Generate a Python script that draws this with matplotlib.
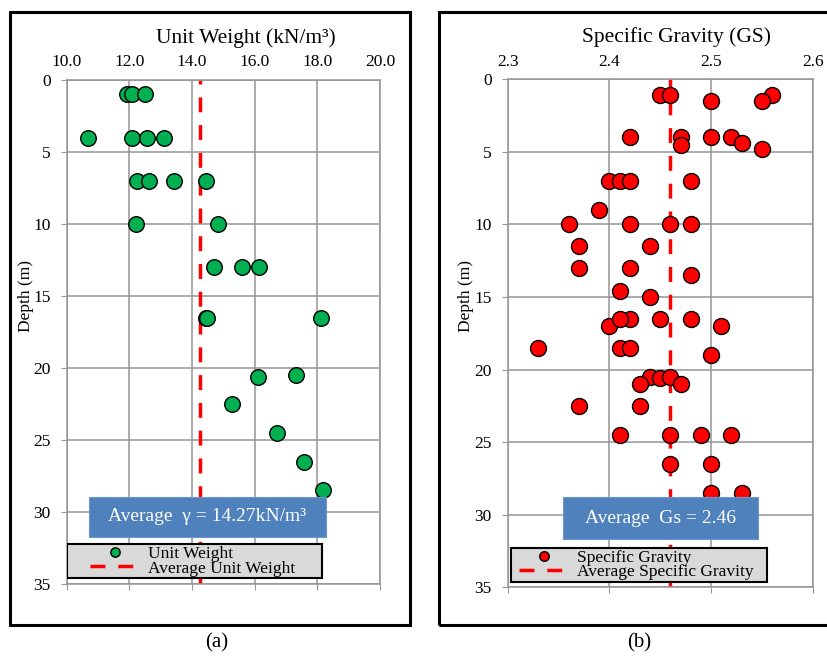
import matplotlib

matplotlib.use("Agg")
import matplotlib.pyplot as plt
from matplotlib.patches import Rectangle

plt.rcParams["font.family"] = ["Liberation Serif", "DejaVu Serif"]

# (a) unit weight profile
depth_a = [1.0, 1.0, 1.0, 4.0, 4.0, 4.0, 4.0, 7.0, 7.0, 7.0, 7.0, 10.0, 10.0,
           13.0, 13.0, 13.0, 16.5, 16.5, 16.5, 20.6, 20.5, 22.5, 24.5, 26.5, 28.5]
unit_weight = [11.92, 12.08, 12.50, 10.67, 12.10, 12.55, 13.09, 12.24, 12.64,
               13.43, 14.44, 12.21, 14.84, 14.70, 15.61, 16.14, 14.44, 14.47,
               18.11, 16.10, 17.33, 15.29, 16.71, 17.56, 18.18]
avg_unit_weight = 14.27

# (b) specific gravity profile
depth_b = [1.1, 1.1, 1.5, 1.1, 1.5,
           4.0, 4.0, 4.5, 4.0, 4.0, 4.4, 4.8,
           7.0, 7.0, 7.0, 7.0, 9.0,
           10.0, 10.0, 10.0, 10.0, 11.5, 11.5,
           13.0, 13.0, 13.5, 14.6, 15.0,
           17.0, 16.5, 16.5, 16.5, 16.5, 17.0,
           18.5, 18.5, 18.5, 19.0,
           20.5, 20.6, 20.5, 21.0, 21.0,
           22.5, 22.5, 24.5, 24.5, 24.5, 24.5,
           26.5, 26.5, 28.5, 28.5]
spec_gravity = [2.45, 2.46, 2.50, 2.56, 2.55,
                2.42, 2.47, 2.47, 2.50, 2.52, 2.53, 2.55,
                2.40, 2.41, 2.42, 2.48, 2.39,
                2.36, 2.42, 2.46, 2.48, 2.37, 2.44,
                2.37, 2.42, 2.48, 2.41, 2.44,
                2.40, 2.42, 2.41, 2.45, 2.48, 2.51,
                2.33, 2.41, 2.42, 2.50,
                2.44, 2.45, 2.46, 2.43, 2.47,
                2.37, 2.43, 2.41, 2.46, 2.49, 2.52,
                2.46, 2.50, 2.50, 2.53]
avg_gs = 2.46

W, H = 827, 657
GRID = "#959595"
BLUE = "#4F81BD"


def fx(x):
    return x / W


def fy(y):
    return 1 - y / H


def panel(rect, x, y, avg, xlim, xticks, color, ms, title, title_x, leg_labels,
          note, note_box, leg_box, leg_anchor, ylabel_xy):
    ax = fig.add_axes(rect)
    ax.plot(x, y, "o", ms=ms, mfc=color, mec="black", mew=1.0, zorder=3,
            label=leg_labels[0])
    ax.axvline(avg, color="red", lw=2.5, dashes=(4.3, 3.7), zorder=2,
               label=leg_labels[1])

    ax.set_xlim(*xlim)
    ax.set_ylim(35, 0)
    ax.set_xticks(xticks)
    ax.set_xticklabels([f"{v:.1f}" for v in xticks])
    ax.set_yticks(range(0, 36, 5))
    ax.grid(True, color=GRID, lw=1.1)
    ax.set_axisbelow(True)
    for s in ax.spines.values():
        s.set_color(GRID)
        s.set_linewidth(1.1)
    ax.tick_params(axis="x", top=False, bottom=True, labeltop=True,
                   labelbottom=False, length=4, color=GRID, pad=3,
                   labelsize=12.5)
    ax.tick_params(axis="y", length=4, color=GRID, pad=7.5, labelsize=12.5)
    ax.xaxis.set_label_position("top")
    ax.set_xlabel(title, fontsize=15.5, labelpad=8)
    ax.xaxis.label.set_x(title_x)
    ax.set_ylabel("Depth (m)", fontsize=12.5)
    ax.yaxis.set_label_coords(*ylabel_xy)

    # blue annotation box with the average value
    bx, by, bw, bh = note_box
    ax.add_patch(Rectangle((bx, by), bw, bh, transform=ax.transAxes,
                           facecolor=BLUE, edgecolor="#6d97c9", lw=0.8,
                           zorder=5))
    ax.text(bx + bw / 2, by + bh / 2, note, transform=ax.transAxes,
            ha="center", va="center", color="white", fontsize=14, zorder=6)

    # grey legend panel
    lx, ly, lw_, lh = leg_box
    ax.add_patch(Rectangle((lx, ly), lw_, lh, transform=ax.transAxes,
                           facecolor="#D9D9D9", edgecolor="black", lw=1.5,
                           zorder=5))
    leg = ax.legend(loc="center left", bbox_to_anchor=leg_anchor,
                    frameon=False, fontsize=12.5, markerscale=0.6,
                    handlelength=2.9, handletextpad=0.45, labelspacing=-0.1,
                    borderpad=0, borderaxespad=0)
    leg.set_zorder(6)
    return ax


fig = plt.figure(figsize=(W / 100, H / 100), dpi=100)

panel([fx(66.7), fy(584), fx(380) - fx(66.7), fy(80) - fy(584)],
      unit_weight, depth_a, avg_unit_weight, (10, 20),
      [10, 12, 14, 16, 18, 20], "#00B050", 11.2,
      "Unit Weight (kN/m³)", 0.572, ["Unit Weight", "Average Unit Weight"],
      f"Average  γ = {avg_unit_weight:.2f}kN/m³",
      (0.0712, 0.0927, 0.7555, 0.0806), (0.0, 0.0113, 0.814, 0.068),
      (0.0744, 0.0452), (-0.104, 0.571))

panel([fx(507.7), fy(587.3), fx(812.7) - fx(507.7), fy(79.3) - fy(587.3)],
      spec_gravity, depth_b, avg_gs, (2.3, 2.6),
      [2.3, 2.4, 2.5, 2.6], "#FF0000", 11.5,
      "Specific Gravity (GS)", 0.553,
      ["Specific Gravity", "Average Specific Gravity"],
      f"Average  Gs = {avg_gs:.2f}",
      (0.1823, 0.0945, 0.6393, 0.0827), (0.0098, 0.0098, 0.839, 0.0681),
      (0.037, 0.0439), (-0.111, 0.573))

# outer frames around each panel
for x0, x1 in [(9.5, 410), (439.3, 832)]:
    fig.patches.append(Rectangle((fx(x0), fy(625)), fx(x1) - fx(x0),
                                 fy(11.7) - fy(625), transform=fig.transFigure,
                                 fill=False, edgecolor="black", lw=2.2))

fig.text(fx(217), fy(643), "(a)", ha="center", va="center", fontsize=15)
fig.text(fx(639), fy(643), "(b)", ha="center", va="center", fontsize=15)

fig.savefig("out.png", dpi=100)
